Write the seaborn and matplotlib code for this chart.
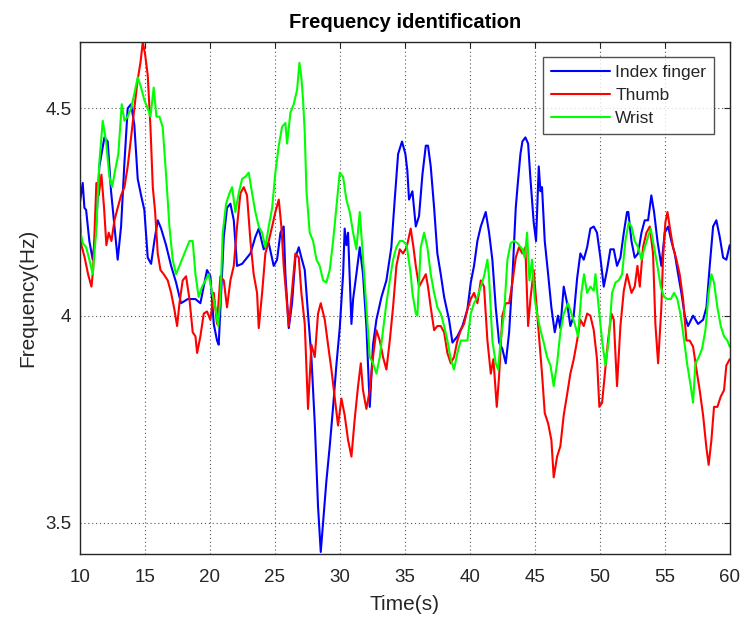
import matplotlib
matplotlib.use("Agg")
import matplotlib.pyplot as plt
import seaborn as sns
import pandas as pd
from matplotlib.lines import Line2D

# ---------------- data ----------------
index_t = [10.0, 10.23, 10.36, 10.49, 10.74, 11.0, 11.26, 11.51, 11.9, 12.15, 12.41, 12.67, 12.92,
           13.18, 13.44, 13.69, 13.95, 14.2, 14.46, 14.72, 14.97, 15.23, 15.49, 15.74, 16.0, 16.26,
           16.64, 17.03, 17.41, 17.79, 18.31, 18.9, 19.28, 19.79, 20.05, 20.31, 20.56, 20.69, 20.95,
           21.08, 21.33, 21.59, 21.85, 22.1, 22.49, 22.87, 23.13, 23.51, 23.77, 24.15, 24.54, 24.92,
           25.18, 25.44, 25.69, 25.82, 26.08, 26.33, 26.59, 26.85, 27.05, 27.31, 27.56, 27.82, 28.08,
           28.33, 28.54, 28.72, 28.97, 29.23, 29.49, 29.74, 30.0, 30.26, 30.38, 30.51, 30.64, 30.9,
           31.03, 31.28, 31.54, 31.79, 32.05, 32.31, 32.56, 32.82, 33.21, 33.59, 33.97, 34.23, 34.49,
           34.79, 35.05, 35.2, 35.33, 35.59, 35.85, 36.1, 36.36, 36.62, 36.79, 37.0, 37.26, 37.51,
           37.77, 38.03, 38.41, 38.67, 39.05, 39.44, 39.82, 40.08, 40.33, 40.59, 40.85, 41.23, 41.49,
           41.74, 42.0, 42.26, 42.51, 42.77, 43.03, 43.28, 43.54, 43.7, 43.9, 44.05, 44.28, 44.49,
           44.67, 44.92, 45.1, 45.31, 45.44, 45.56, 45.77, 46.03, 46.28, 46.54, 46.79, 46.97, 47.23,
           47.49, 47.74, 48.0, 48.26, 48.51, 48.77, 49.03, 49.28, 49.54, 49.79, 50.05, 50.31, 50.56,
           50.82, 51.08, 51.33, 51.59, 51.85, 52.1, 52.2, 52.44, 52.69, 52.95, 53.21, 53.46, 53.72,
           53.97, 54.18, 54.44, 54.74, 55.0, 55.26, 55.51, 55.77, 56.03, 56.28, 56.54, 56.79, 57.18,
           57.56, 57.95, 58.21, 58.46, 58.72, 58.97, 59.23, 59.49, 59.74, 60.0]
index_f = [4.27, 4.32, 4.26, 4.255, 4.18, 4.135, 4.215, 4.36, 4.43, 4.42, 4.30, 4.215, 4.135,
           4.215, 4.37, 4.50, 4.51, 4.46, 4.33, 4.29, 4.255, 4.14, 4.125, 4.18, 4.23, 4.21,
           4.17, 4.12, 4.08, 4.03, 4.04, 4.04, 4.03, 4.11, 4.095, 3.98, 3.94, 3.93, 4.10,
           4.19, 4.26, 4.27, 4.23, 4.12, 4.125, 4.14, 4.15, 4.19, 4.21, 4.16, 4.175, 4.12,
           4.135, 4.20, 4.215, 4.10, 3.97, 4.03, 4.14, 4.165, 4.14, 4.11, 4.005, 3.90, 3.74,
           3.54, 3.43, 3.50, 3.60, 3.685, 3.78, 3.88, 3.97, 4.10, 4.21, 4.17, 4.20, 3.98,
           4.04, 4.10, 4.165, 4.10, 3.975, 3.78, 3.93, 3.99, 4.045, 4.085, 4.165, 4.28, 4.39,
           4.42, 4.39, 4.35, 4.28, 4.30, 4.215, 4.24, 4.34, 4.41, 4.41, 4.36, 4.26, 4.15,
           4.10, 4.045, 3.99, 3.935, 3.95, 3.975, 4.015, 4.08, 4.12, 4.18, 4.215, 4.25, 4.20,
           4.135, 4.02, 3.935, 3.92, 3.885, 3.96, 4.09, 4.26, 4.32, 4.39, 4.42, 4.43, 4.415,
           4.33, 4.225, 4.18, 4.36, 4.30, 4.31, 4.18, 4.10, 4.02, 3.96, 4.00, 3.97, 4.07,
           4.03, 3.975, 4.00, 4.09, 4.15, 4.135, 4.165, 4.21, 4.215, 4.20, 4.14, 4.07, 4.11,
           4.16, 4.16, 4.12, 4.14, 4.20, 4.25, 4.25, 4.18, 4.14, 4.15, 4.20, 4.23, 4.23,
           4.29, 4.25, 4.18, 4.12, 4.20, 4.215, 4.18, 4.15, 4.10, 4.055, 4.00, 3.975, 4.00,
           3.98, 3.99, 4.02, 4.12, 4.215, 4.23, 4.19, 4.14, 4.135, 4.17]

thumb_t = [10.0, 10.13, 10.38, 10.64, 10.9, 11.03, 11.28, 11.46, 11.67, 11.87, 12.05, 12.23, 12.44,
           12.67, 12.92, 13.18, 13.44, 13.69, 13.95, 14.2, 14.46, 14.67, 14.85, 15.03, 15.23, 15.44,
           15.62, 15.8, 16.0, 16.21, 16.46, 16.77, 17.03, 17.28, 17.49, 17.67, 17.92, 18.18, 18.44,
           18.69, 18.9, 19.03, 19.28, 19.54, 19.79, 20.05, 20.31, 20.56, 20.82, 21.08, 21.33, 21.59,
           21.85, 22.1, 22.36, 22.62, 22.87, 23.13, 23.38, 23.64, 23.77, 24.03, 24.28, 24.54, 24.8,
           25.05, 25.31, 25.51, 25.69, 25.87, 26.08, 26.33, 26.59, 26.85, 27.05, 27.31, 27.56, 27.82,
           28.08, 28.33, 28.54, 28.85, 29.1, 29.36, 29.62, 29.87, 30.13, 30.38, 30.64, 30.9, 31.15,
           31.41, 31.62, 31.79, 32.05, 32.31, 32.56, 32.82, 33.08, 33.33, 33.59, 33.85, 34.1, 34.36,
           34.62, 34.87, 35.15, 35.46, 35.67, 35.85, 36.1, 36.36, 36.62, 36.79, 37.0, 37.26, 37.51,
           37.77, 38.03, 38.28, 38.54, 38.79, 39.05, 39.31, 39.56, 39.82, 40.08, 40.33, 40.59, 40.85,
           41.1, 41.36, 41.62, 41.82, 42.08, 42.26, 42.51, 42.77, 43.03, 43.28, 43.54, 43.79, 44.05,
           44.28, 44.49, 44.67, 44.92, 45.1, 45.31, 45.56, 45.77, 46.03, 46.28, 46.46, 46.72, 46.97,
           47.23, 47.49, 47.74, 48.0, 48.26, 48.51, 48.77, 49.03, 49.28, 49.54, 49.79, 49.97, 50.18,
           50.38, 50.64, 50.9, 51.08, 51.33, 51.59, 51.85, 52.1, 52.25, 52.44, 52.69, 52.9, 53.08,
           53.33, 53.59, 53.85, 54.1, 54.28, 54.49, 54.74, 54.87, 55.05, 55.21, 55.38, 55.64, 55.9,
           56.15, 56.41, 56.67, 56.92, 57.18, 57.44, 57.69, 57.95, 58.21, 58.38, 58.59, 58.79, 59.05,
           59.31, 59.56, 59.74, 60.0]
thumb_f = [4.25, 4.17, 4.14, 4.10, 4.07, 4.11, 4.32, 4.29, 4.34, 4.26, 4.17, 4.20, 4.18,
           4.23, 4.26, 4.29, 4.31, 4.36, 4.43, 4.50, 4.57, 4.61, 4.66, 4.63, 4.58, 4.455,
           4.31, 4.25, 4.15, 4.11, 4.10, 4.085, 4.055, 4.015, 3.975, 4.03, 4.085, 4.095, 4.04,
           3.96, 3.95, 3.91, 3.95, 4.005, 4.01, 3.99, 4.055, 3.98, 4.095, 4.085, 4.02, 4.085,
           4.12, 4.215, 4.295, 4.31, 4.29, 4.18, 4.10, 4.055, 3.97, 4.055, 4.15, 4.18, 4.215,
           4.25, 4.28, 4.215, 4.12, 4.055, 3.975, 4.06, 4.15, 4.14, 4.055, 3.98, 3.775, 3.93,
           3.90, 4.005, 4.03, 3.99, 3.93, 3.87, 3.80, 3.735, 3.80, 3.76, 3.70, 3.66, 3.75,
           3.83, 3.885, 3.82, 3.775, 3.82, 3.90, 3.965, 3.94, 3.90, 3.87, 3.94, 4.02, 4.12,
           4.16, 4.15, 4.165, 4.21, 4.165, 4.12, 4.07, 4.085, 4.10, 4.07, 4.02, 3.965, 3.975,
           3.975, 3.96, 3.91, 3.885, 3.90, 3.94, 3.965, 3.98, 4.015, 4.04, 4.055, 4.03, 4.085,
           4.07, 3.94, 3.86, 3.895, 3.78, 3.855, 4.00, 4.03, 4.03, 4.08, 4.14, 4.165, 4.15,
           4.165, 3.975, 4.04, 4.11, 4.04, 3.96, 3.86, 3.765, 3.74, 3.70, 3.61, 3.66, 3.685,
           3.76, 3.81, 3.86, 3.895, 3.94, 3.99, 3.975, 4.005, 4.00, 3.965, 3.895, 3.78, 3.79,
           3.855, 3.94, 4.005, 3.99, 3.83, 3.975, 4.06, 4.10, 4.08, 4.055, 4.07, 4.12, 4.07,
           4.165, 4.20, 4.215, 4.15, 3.98, 3.885, 4.02, 4.14, 4.225, 4.25, 4.215, 4.165, 4.135,
           4.10, 4.04, 3.94, 3.94, 3.925, 3.87, 3.82, 3.76, 3.68, 3.64, 3.70, 3.78, 3.78,
           3.805, 3.82, 3.88, 3.895]

wrist_t = [10.0, 10.23, 10.49, 10.74, 11.0, 11.26, 11.51, 11.77, 12.03, 12.28, 12.49, 12.72, 12.97,
           13.23, 13.44, 13.69, 13.95, 14.2, 14.46, 14.72, 14.97, 15.23, 15.44, 15.69, 15.9, 16.13,
           16.38, 16.64, 16.9, 17.15, 17.41, 17.67, 17.92, 18.18, 18.44, 18.69, 18.9, 19.15, 19.41,
           19.67, 19.92, 20.18, 20.44, 20.64, 20.82, 21.0, 21.26, 21.51, 21.72, 21.97, 22.23, 22.49,
           22.74, 23.0, 23.26, 23.51, 23.77, 24.03, 24.28, 24.54, 24.8, 25.05, 25.31, 25.56, 25.82,
           25.95, 26.21, 26.46, 26.72, 26.9, 27.05, 27.18, 27.31, 27.44, 27.69, 27.95, 28.21, 28.46,
           28.72, 28.97, 29.23, 29.49, 29.74, 30.0, 30.26, 30.51, 30.77, 31.03, 31.28, 31.54, 31.79,
           32.05, 32.31, 32.56, 32.82, 33.08, 33.33, 33.59, 33.85, 34.1, 34.36, 34.62, 34.87, 35.15,
           35.46, 35.59, 35.85, 35.97, 36.23, 36.49, 36.74, 37.0, 37.26, 37.51, 37.77, 38.03, 38.28,
           38.54, 38.79, 39.05, 39.31, 39.56, 39.82, 40.08, 40.33, 40.59, 40.85, 41.1, 41.36, 41.49,
           41.74, 42.0, 42.18, 42.38, 42.64, 42.9, 43.15, 43.41, 43.67, 44.05, 44.23, 44.41, 44.59,
           44.79, 45.0, 45.18, 45.44, 45.69, 45.95, 46.21, 46.46, 46.72, 46.97, 47.23, 47.56, 47.82,
           48.08, 48.33, 48.59, 48.79, 49.03, 49.28, 49.54, 49.67, 49.92, 50.18, 50.44, 50.69, 50.95,
           51.21, 51.46, 51.72, 51.97, 52.23, 52.44, 52.69, 52.95, 53.21, 53.46, 53.72, 53.92, 54.18,
           54.44, 54.69, 54.95, 55.21, 55.46, 55.72, 55.97, 56.23, 56.49, 56.74, 57.0, 57.18, 57.36,
           57.62, 57.87, 58.13, 58.38, 58.59, 58.79, 59.05, 59.31, 59.56, 59.82, 60.0]
wrist_f = [4.21, 4.175, 4.165, 4.135, 4.10, 4.20, 4.37, 4.47, 4.42, 4.335, 4.31, 4.35, 4.39,
           4.51, 4.47, 4.48, 4.50, 4.535, 4.575, 4.55, 4.52, 4.50, 4.48, 4.55, 4.48, 4.48,
           4.455, 4.34, 4.215, 4.135, 4.10, 4.12, 4.14, 4.16, 4.18, 4.18, 4.10, 4.045, 4.07,
           4.085, 4.10, 4.055, 4.02, 3.975, 4.04, 4.20, 4.27, 4.295, 4.31, 4.25, 4.295, 4.33,
           4.335, 4.345, 4.295, 4.25, 4.215, 4.20, 4.165, 4.215, 4.26, 4.345, 4.41, 4.455, 4.465,
           4.415, 4.49, 4.51, 4.545, 4.61, 4.575, 4.52, 4.44, 4.30, 4.20, 4.18, 4.135, 4.12,
           4.085, 4.08, 4.11, 4.18, 4.26, 4.345, 4.335, 4.28, 4.25, 4.20, 4.16, 4.25, 4.14,
           4.02, 3.90, 3.885, 3.86, 3.90, 3.965, 4.03, 4.085, 4.135, 4.165, 4.18, 4.18, 4.17,
           4.10, 4.055, 4.005, 4.00, 4.165, 4.20, 4.165, 4.10, 4.055, 4.02, 4.005, 3.975, 3.94,
           3.895, 3.87, 3.91, 3.94, 3.94, 3.94, 4.005, 4.03, 4.045, 4.07, 4.095, 4.135, 4.09,
           3.94, 3.885, 3.87, 3.94, 4.005, 4.135, 4.175, 4.18, 4.175, 4.16, 4.14, 4.20, 4.085,
           4.135, 4.04, 4.005, 3.965, 3.935, 3.90, 3.88, 3.83, 3.885, 3.96, 4.005, 4.03, 4.005,
           3.98, 3.95, 4.055, 4.10, 4.055, 4.07, 4.06, 4.10, 4.02, 3.94, 3.88, 3.94, 4.055,
           4.08, 4.085, 4.10, 4.18, 4.225, 4.215, 4.18, 4.165, 4.135, 4.165, 4.19, 4.21, 4.165,
           4.12, 4.07, 4.045, 4.04, 4.04, 4.055, 4.04, 4.00, 3.94, 3.88, 3.83, 3.79, 3.885,
           3.90, 3.92, 3.965, 4.055, 4.10, 4.08, 4.02, 3.975, 3.95, 3.94, 3.925]

series_names = ["Index finger", "Thumb", "Wrist"]
series_colors = ["#0000ff", "#ff0000", "#00ff00"]
x_ticks = [10, 15, 20, 25, 30, 35, 40, 45, 50, 55, 60]
y_ticks = [3.5, 4.0, 4.5]
y_tick_labels = ["3.5", "4", "4.5"]

# ---------------- build long table ----------------
frames = []
for name, t, f in zip(series_names, [index_t, thumb_t, wrist_t], [index_f, thumb_f, wrist_f]):
    frames.append(pd.DataFrame({"Time": t, "Frequency": f, "Series": name}))
df = pd.concat(frames, ignore_index=True)

sns.set_style("white")
plt.rcParams["font.family"] = ["Liberation Sans", "DejaVu Sans"]

dark = "#262626"
fig = plt.figure(figsize=(7.41, 6.18), dpi=100)
ax = fig.add_axes([0.1076, 0.1035, 0.8772, 0.8285])

sns.lineplot(data=df, x="Time", y="Frequency", hue="Series", hue_order=series_names,
             palette=dict(zip(series_names, series_colors)), estimator=None, sort=False,
             units="Series", linewidth=1.5, ax=ax, legend=False)

ax.set_xlim(10, 60)
ax.set_ylim(3.425, 4.66)
ax.set_xticks(x_ticks)
ax.set_yticks(y_ticks)
ax.set_yticklabels(y_tick_labels)
ax.grid(True, color="#555555", linestyle=(0, (1, 2.5)), linewidth=0.8)
ax.set_axisbelow(True)
for s in ax.spines.values():
    s.set_color(dark)
    s.set_linewidth(1.0)
ax.tick_params(direction="in", length=4, width=0.8, colors=dark, labelsize=13.5,
               top=True, right=True)
ax.tick_params(axis="x", pad=11)
ax.tick_params(axis="y", pad=6)

ax.set_xlabel("Time(s)", fontsize=15, color=dark, labelpad=6)
ax.set_ylabel("Frequency(Hz)", fontsize=15, color=dark, labelpad=6)
ax.set_title("Frequency identification", fontsize=14.5, fontweight="bold", color="black", pad=10)

handles = [Line2D([0], [0], color=c, lw=1.5) for c in series_colors]
leg = ax.legend(handles, series_names, loc="upper right", bbox_to_anchor=(0.976, 0.971),
                borderaxespad=0, fontsize=12.5, frameon=True, fancybox=False,
                handlelength=3.4, handletextpad=0.3, labelspacing=0.47, borderpad=0.45)
leg.get_frame().set_edgecolor(dark)
leg.get_frame().set_linewidth(1.0)
for txt in leg.get_texts():
    txt.set_color(dark)

fig.savefig("out.png", dpi=100)
